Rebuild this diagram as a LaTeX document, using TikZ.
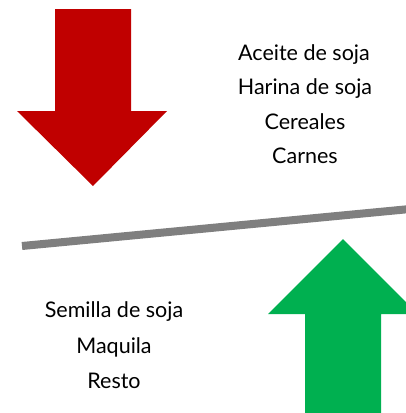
\documentclass[tikz,border=0pt]{standalone}
\usepackage{fontspec}
\setmainfont{Lato}
\definecolor{arrred}{HTML}{C00000}
\definecolor{arrgreen}{HTML}{00B050}
\definecolor{bargray}{HTML}{7F7F7F}
\begin{document}
\begin{tikzpicture}[x=1pt,y=-1pt,
  lbl/.style={anchor=base,inner sep=0pt,font=\fontsize{21.5}{25}\selectfont}]
\useasboundingbox (0,0) rectangle (406,413);
\clip (0,0) rectangle (406,413);
% red down arrow
\fill[arrred] (55,9) -- (131,9) -- (131,111) -- (167,111) -- (93,186) -- (17,111) -- (55,111) -- cycle;
% green up arrow
\fill[arrgreen] (305,420) -- (305,314) -- (268,314) -- (343,239) -- (418,314) -- (381,314) -- (381,420) -- cycle;
% gray bar
\coordinate (bl) at (22,246);
\coordinate (br) at (410,209);
\draw[bargray,line width=8pt] (bl) -- (br);
% texts
\node[lbl] (t1) at (304,60) {Aceite de soja};
\node[lbl] (t2) at (305,94.5) {Harina de soja};
\node[lbl] (t3) at (305,129) {Cereales};
\node[lbl] (t4) at (305,163.5) {Carnes};
\node[lbl] (b1) at (114,317) {Semilla de soja};
\node[lbl] (b2) at (114,353) {Maquila};
\node[lbl] (b3) at (114,388) {Resto};
\end{tikzpicture}
\end{document}
